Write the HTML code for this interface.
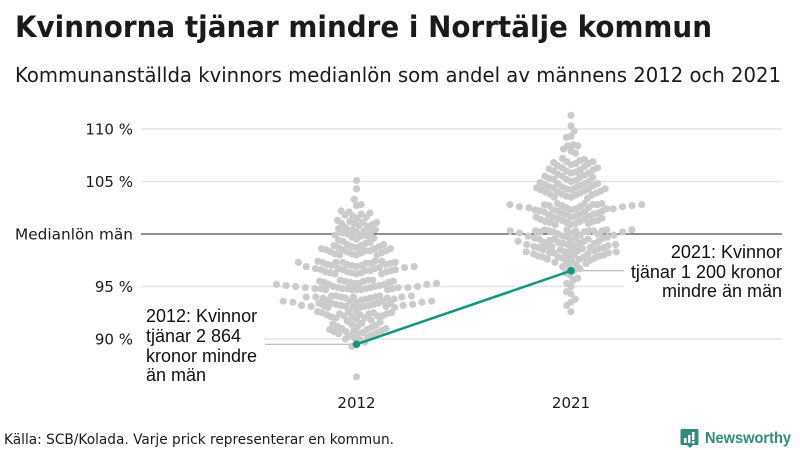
<!DOCTYPE html>
<html lang="sv">
<head>
<meta charset="utf-8">
<title>Kvinnorna tjänar mindre i Norrtälje kommun</title>
<style>
html,body{margin:0;padding:0;background:#fff;width:800px;height:450px;overflow:hidden}
svg{display:block}
text{font-family:"DejaVu Sans","Liberation Sans",sans-serif;fill:#1a1a1a}
.anno{font-family:"Liberation Sans",Arial,sans-serif;font-size:18px;fill:#111}
</style>
</head>
<body>
<svg id="chart" width="800" height="450" viewBox="0 0 800 450" xmlns="http://www.w3.org/2000/svg">
  <rect x="0" y="0" width="800" height="450" fill="#fff"/>
  <text x="15" y="37" font-size="29" font-weight="700" fill="#111" textLength="697" lengthAdjust="spacingAndGlyphs">Kvinnorna tjänar mindre i Norrtälje kommun</text>
  <text x="15" y="82" font-size="20" textLength="766" lengthAdjust="spacingAndGlyphs">Kommunanställda kvinnors medianlön som andel av männens 2012 och 2021</text>
  <g id="grid"></g>
  <g id="ylabels"></g>
  <g id="xlabels"></g>
  <g id="leaders"></g>
  <rect x="141" y="305" width="123" height="80" fill="#fff"/>
  <rect x="624" y="243" width="158" height="58" fill="#fff"/>
  <g id="dots"></g>
  <g id="highlight"></g>
  <g>
    <text class="anno" x="146" y="322">2012: Kvinnor</text>
    <text class="anno" x="146" y="342">tjänar 2 864</text>
    <text class="anno" x="146" y="362">kronor mindre</text>
    <text class="anno" x="146" y="381">än män</text>
  </g>
  <g>
    <text class="anno" x="782" y="258" text-anchor="end">2021: Kvinnor</text>
    <text class="anno" x="782" y="278" text-anchor="end">tjänar 1 200 kronor</text>
    <text class="anno" x="782" y="297" text-anchor="end">mindre än män</text>
  </g>
  <text x="4" y="444" font-size="14" textLength="390" lengthAdjust="spacingAndGlyphs">Källa: SCB/Kolada. Varje prick representerar en kommun.</text>
  <g>
    <path d="M682 429h15a1.500 1.500 0 0 1 1.500 1.500v13a1.500 1.500 0 0 1-1.500 1.500h-4l-3 3-3-3h-5a1.500 1.500 0 0 1-1.500-1.500v-13a1.500 1.500 0 0 1 1.500-1.500z" fill="#2f8c80"/>
    <rect x="684" y="438" width="2.500" height="5" fill="#fff"/>
    <rect x="688" y="435" width="2.500" height="8" fill="#fff"/>
    <rect x="692" y="432" width="2.500" height="8" fill="#fff"/>
    <rect x="692" y="441" width="2.500" height="2.500" fill="#fff"/>
    <text x="705" y="443" font-size="16" font-weight="700" style="fill:#2f8c80;font-family:'Liberation Sans',sans-serif" textLength="86" lengthAdjust="spacingAndGlyphs">Newsworthy</text>
  </g>
</svg>
<script>
const categories = ["2012", "2021"];
const gridValues = [110, 105, 95, 90];
const gridLabels = ["110 %", "105 %", "95 %", "90 %"];
const baselineValue = 100;
const baselineLabel = "Medianlön män";
const highlightValues = [89.5, 96.5];
const values2012 = [
105.1,104.3,103.3,102.8,102.7,
102.2,102.1,102.0,101.9,101.8,101.7,101.6,101.5,
101.3,101.2,101.1,101.1,101.0,101.0,100.9,100.8,100.7,100.6,100.5,
100.4,100.4,100.3,100.2,100.2,100.1,100.0,99.9,99.8,99.8,99.7,99.6,99.5,
99.4,99.3,99.2,99.1,99.0,99.0,98.9,98.9,98.8,98.8,98.7,98.7,98.6,98.6,98.6,98.5,98.5,98.4,98.4,98.4,98.3,98.3,98.2,98.2,98.1,98.1,98.0,98.0,98.0,
97.4,97.4,97.4,97.3,97.3,97.3,97.3,97.3,97.2,97.2,97.2,
97.1,97.1,97.1,97.0,97.0,97.0,96.9,96.9,96.9,
96.8,96.8,96.7,96.7,96.7,96.6,96.6,96.6,96.5,96.5,96.5,96.4,96.4,96.4,96.3,96.3,96.3,96.2,96.2,96.2,
95.6,95.6,95.6,95.5,95.5,95.5,95.5,95.4,95.4,95.4,
95.3,95.3,95.3,95.2,95.2,95.2,95.2,95.1,95.1,
95.0,95.0,95.0,95.0,94.9,94.9,94.9,94.9,94.9,94.8,94.8,94.8,94.8,94.8,94.8,94.7,94.7,94.7,94.7,94.7,
94.1,94.1,94.1,94.1,94.0,94.0,94.0,94.0,94.0,94.0,93.9,93.9,93.9,93.9,
93.8,93.8,93.7,93.7,93.6,93.6,93.6,93.6,93.5,93.5,93.5,93.4,93.4,93.4,93.4,93.3,93.3,93.3,
93.2,93.2,93.2,93.2,93.2,93.1,93.1,93.1,93.1,93.1,93.0,93.0,93.0,
92.6,92.6,92.6,92.5,92.5,92.5,92.4,92.4,92.4,
92.3,92.3,92.2,92.2,92.2,92.1,92.1,92.0,92.0,
91.9,91.8,91.7,91.6,91.5,91.4,91.4,91.3,91.2,91.2,91.1,91.0,91.0,
90.9,90.9,90.8,90.8,90.7,90.7,90.6,90.6,90.5,90.5,90.4,90.3,90.2,90.1,90.0,
89.9,89.7,89.5,89.3,86.4
];
const values2021 = [
111.3,110.3,109.8,109.3,109.2,108.5,108.4,108.4,108.1,107.9,107.7,
107.2,107.1,107.0,106.9,106.9,106.8,106.7,106.7,106.6,106.5,106.4,106.3,106.3,
106.2,106.1,106.1,106.0,106.0,105.9,105.8,105.8,105.7,105.6,105.5,105.5,105.4,105.4,105.3,105.2,105.2,105.1,105.0,105.0,
104.9,104.8,104.8,104.8,104.7,104.6,104.6,104.5,104.5,104.4,104.4,104.4,104.3,104.3,104.3,104.2,104.2,
104.1,104.1,104.0,104.0,103.9,103.9,103.8,103.8,103.7,103.7,103.6,103.5,103.5,103.4,
102.9,102.9,102.9,102.8,102.8,102.8,102.8,102.8,102.7,102.7,102.7,
102.6,102.6,102.6,102.5,102.5,102.5,102.4,102.4,102.4,102.3,102.3,102.3,102.2,102.2,102.2,102.1,102.1,102.0,102.0,
101.9,101.9,101.8,101.8,101.7,101.7,101.6,101.6,101.6,101.5,101.5,101.4,101.4,101.3,101.3,101.2,101.2,101.2,101.1,101.1,101.0,101.0,100.9,100.9,
100.4,100.4,100.4,100.4,100.3,100.3,100.3,100.3,100.3,100.3,100.3,100.2,100.2,100.2,100.2,
100.1,100.1,100.0,100.0,99.9,99.9,99.8,99.8,
99.7,99.7,99.6,99.6,99.6,99.5,99.5,99.5,99.4,99.4,99.3,99.3,99.3,99.2,99.2,99.1,99.1,99.1,99.0,99.0,99.0,
98.9,98.9,98.8,98.8,98.8,98.7,98.7,98.7,98.6,98.6,98.5,98.5,98.5,98.4,98.4,98.3,98.3,98.3,98.2,98.2,98.2,98.1,98.1,98.0,98.0,
97.9,97.9,97.9,97.8,97.8,97.8,97.7,97.7,97.6,97.6,
97.5,97.4,97.3,97.3,97.2,97.1,96.9,96.8,96.7,96.5,96.3,96.1,95.8,95.6,95.3,95.0,94.5,94.3,93.8,93.5,93.2,92.6
];

const SVGNS = "http://www.w3.org/2000/svg";
const DOT_GAP = 7.2;
const DOT_RADIUS = 3.6;
const categoryCenters = [356.5, 571];

function xScale(i) { return categoryCenters[i]; }
function yScale(v) { return 234 - (v - 100) * 10.5; }

// squeezes the packed core of the swarm so it overlaps, leaving outer wings airy
function squeeze(d) {
  const a = Math.abs(d);
  const m = a <= 60 ? a * 0.65 : 39 + (a - 60) * 1.35;
  return d < 0 ? -m : m;
}

function swarm(values) {
  const sorted = values.slice().sort(function (a, b) { return a - b; });
  // two passes (every other value first) so the rows interlock instead of forming stripes
  const order = sorted.filter(function (v, i) { return i % 2 === 0; })
    .concat(sorted.filter(function (v, i) { return i % 2 === 1; }));
  const placed = [];
  let side = 1;
  order.forEach(function (v) {
    const y = yScale(v);
    const near = placed.filter(function (p) { return Math.abs(p.y - y) < DOT_GAP; });
    const candidates = [0];
    near.forEach(function (p) {
      const dx = Math.sqrt(DOT_GAP * DOT_GAP - (p.y - y) * (p.y - y));
      candidates.push(p.dx + dx, p.dx - dx);
    });
    candidates.sort(function (a, b) {
      const diff = Math.abs(a) - Math.abs(b);
      return Math.abs(diff) > 1e-6 ? diff : (b - a) * side;
    });
    for (let c = 0; c < candidates.length; c++) {
      const dx = candidates[c];
      const clash = near.some(function (p) {
        const ax = p.dx - dx, ay = p.y - y;
        return ax * ax + ay * ay < DOT_GAP * DOT_GAP - 1e-6;
      });
      if (!clash) {
        placed.push({ dx: dx, y: y });
        side = -side;
        break;
      }
    }
  });
  return placed;
}

const grid = document.getElementById("grid");
const ylabels = document.getElementById("ylabels");
const xlabels = document.getElementById("xlabels");
const leaders = document.getElementById("leaders");
const dots = document.getElementById("dots");
const highlight = document.getElementById("highlight");

gridValues.forEach(function (v, i) {
  const line = document.createElementNS(SVGNS, "line");
  
  
  line.setAttribute("x1", 141);
  line.setAttribute("x2", 782);
  line.setAttribute("y1", yScale(v));
  line.setAttribute("y2", yScale(v));
  line.setAttribute("stroke", "#e4e4e8");
  line.setAttribute("stroke-width", "1.5");
  grid.appendChild(line);
  const label = document.createElementNS(SVGNS, "text");
  
  
  label.setAttribute("x", 133);
  label.setAttribute("y", yScale(v) + 5.5);
  label.setAttribute("text-anchor", "end");
  label.setAttribute("font-size", "15");
  label.textContent = gridLabels[i];
  ylabels.appendChild(label);
});

const baseLine = document.createElementNS(SVGNS, "line");


baseLine.setAttribute("x1", 141);
baseLine.setAttribute("x2", 782);
baseLine.setAttribute("y1", yScale(baselineValue));
baseLine.setAttribute("y2", yScale(baselineValue));
baseLine.setAttribute("stroke", "#222");
baseLine.setAttribute("stroke-width", "1");
baseLine.setAttribute("shape-rendering", "crispEdges");
grid.appendChild(baseLine);

const baseText = document.createElementNS(SVGNS, "text");


baseText.setAttribute("x", 133);
baseText.setAttribute("y", yScale(baselineValue) + 5.5);
baseText.setAttribute("text-anchor", "end");
baseText.setAttribute("font-size", "15");
baseText.setAttribute("textLength", "118");
baseText.setAttribute("lengthAdjust", "spacingAndGlyphs");
baseText.textContent = baselineLabel;
ylabels.appendChild(baseText);

categories.forEach(function (c, i) {
  const label = document.createElementNS(SVGNS, "text");
  
  
  label.setAttribute("x", xScale(i));
  label.setAttribute("y", 408);
  label.setAttribute("text-anchor", "middle");
  label.setAttribute("font-size", "15");
  label.textContent = c;
  xlabels.appendChild(label);
});

const leaderStarts = [265, 571];
const leaderEnds = [356.5, 624];
highlightValues.forEach(function (v, i) {
  const leader = document.createElementNS(SVGNS, "line");
  
  
  leader.setAttribute("x1", leaderStarts[i]);
  leader.setAttribute("x2", leaderEnds[i]);
  leader.setAttribute("y1", yScale(v));
  leader.setAttribute("y2", yScale(v));
  leader.setAttribute("stroke", "#aaaaaa");
  leader.setAttribute("stroke-width", "1");
  leaders.appendChild(leader);
});

[values2012, values2021].forEach(function (series, i) {
  swarm(series).forEach(function (p) {
    const dot = document.createElementNS(SVGNS, "circle");
    
    
    dot.setAttribute("cx", xScale(i) + squeeze(p.dx));
    dot.setAttribute("cy", p.y);
    dot.setAttribute("r", DOT_RADIUS);
    dot.setAttribute("fill", "#cbcbcb");
    dots.appendChild(dot);
  });
});

const trend = document.createElementNS(SVGNS, "line");


trend.setAttribute("x1", xScale(0));
trend.setAttribute("y1", yScale(highlightValues[0]));
trend.setAttribute("x2", xScale(1));
trend.setAttribute("y2", yScale(highlightValues[1]));
trend.setAttribute("stroke", "#0e9682");
trend.setAttribute("stroke-width", "2.500");
highlight.appendChild(trend);

highlightValues.forEach(function (v, i) {
  const point = document.createElementNS(SVGNS, "circle");
  
  
  point.setAttribute("cx", xScale(i));
  point.setAttribute("cy", yScale(v));
  point.setAttribute("r", 3.8);
  point.setAttribute("fill", "#0e9682");
  highlight.appendChild(point);
});
</script>
</body>
</html>
